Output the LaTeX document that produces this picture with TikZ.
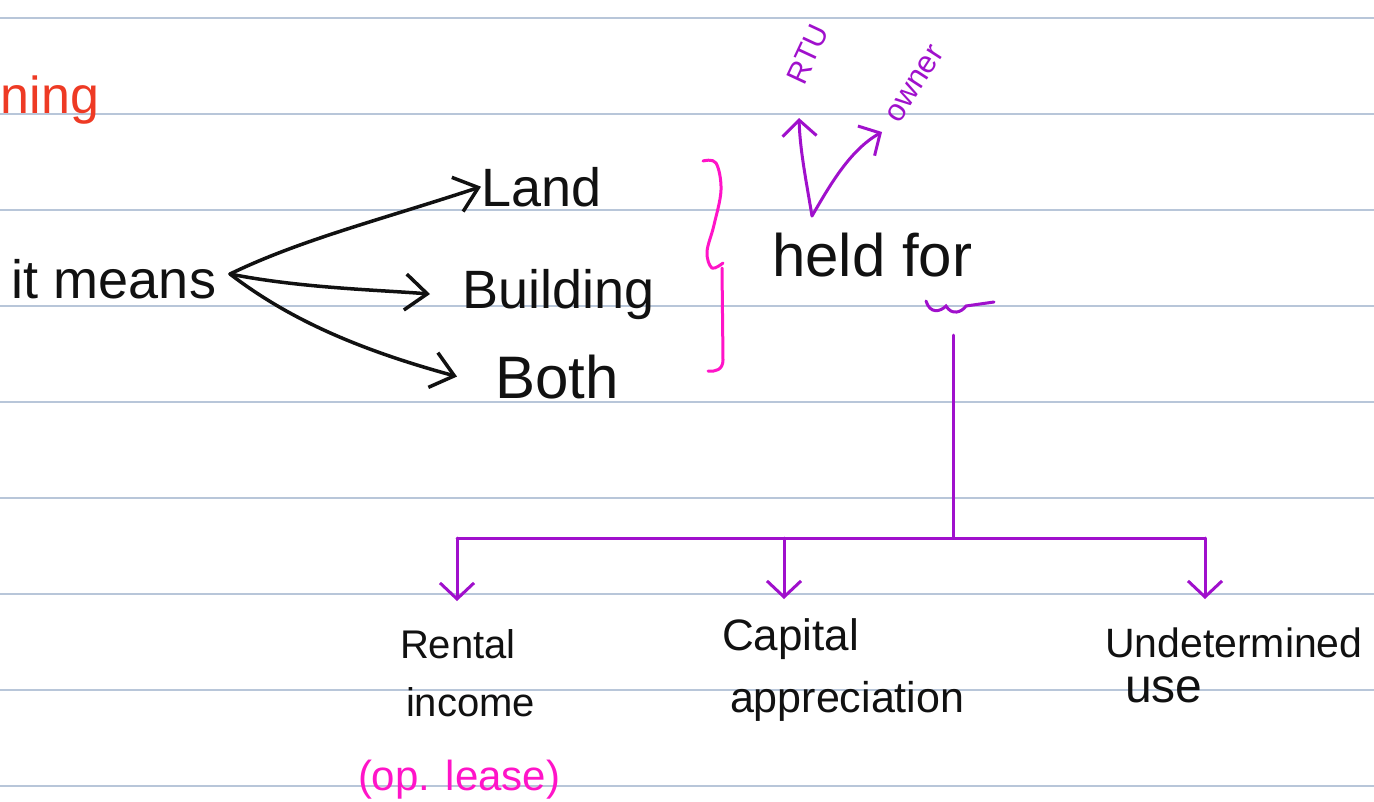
\documentclass[tikz,border=0pt]{standalone}
\usepackage{fontspec}
\setmainfont{Liberation Sans}
\usetikzlibrary{arrows.meta}
\definecolor{rule}{HTML}{B8C6D9}
\definecolor{ink}{HTML}{111111}
\definecolor{purp}{HTML}{A010CC}
\definecolor{pinkk}{HTML}{FF14C8}
\definecolor{redd}{HTML}{EE3A24}
\tikzset{
  hand/.style={inner sep=0pt, outer sep=0pt, text=ink},
  barb/.style={-{Straight Barb[length=22pt,width=36pt,line width=3.5pt]}},
  karrow/.style={draw=ink, line width=3.5pt, line cap=round, barb},
  parrow/.style={draw=purp, line width=3pt, line cap=round, -{Straight Barb[length=16pt,width=34pt,line width=3pt]}},
  pline/.style={draw=purp, line width=3pt, line cap=round},
}
\begin{document}
\begin{tikzpicture}[x=1pt,y=-1pt]
\useasboundingbox (0,0) rectangle (1374,801);
\fill[white] (0,0) rectangle (1374,801);
\foreach \k in {0,...,8} {
  \draw[rule, line width=1.8pt] (0,18+96*\k) -- (1374,18+96*\k);
}
% red partial word
\node[hand, text=redd, anchor=base west, font=\fontsize{52}{58}\selectfont] (mean) at (1,113) {ning};
% left part
\node[hand, anchor=base west, font=\fontsize{54}{60}\selectfont] (it) at (12,298) {it means};
\node[hand, anchor=base west, font=\fontsize{54}{60}\selectfont] (land) at (481,206) {Land};
\node[hand, anchor=base west, font=\fontsize{54}{60}\selectfont] (bldg) at (462,308) {Building};
\node[hand, anchor=base west, font=\fontsize{60}{64}\selectfont] (both) at (495,398) {Both};
\coordinate (src) at (230,274);
\draw[karrow] (src) .. controls (300,240) and (380,220) .. (land.west);
\draw[karrow] (src) .. controls (300,288) and (380,290) .. ([xshift=-32pt]bldg.west);
\draw[karrow] (src) .. controls (290,320) and (360,350) .. ([xshift=-38pt]both.west);
% brace
\draw[pinkk, line width=3pt, line cap=round, line join=round]
  plot[smooth, tension=0.6] coordinates {(703,161) (716,163) (721,190) (714,225) (707,252) (712,268) (723,263)}
  (722,268) -- (723,360) .. controls (723,370) and (715,372) .. (708,371);
% held for
\node[hand, anchor=base west, font=\fontsize{60}{66}\selectfont] (held) at (772,276) {held for};
\draw[pline] (926,301) .. controls (930,314) and (940,312) .. (946,306) .. controls (952,316) and (962,312) .. (966,306) -- (994,302);
\coordinate (v) at (812,216);
\coordinate (rtutip) at (799,118);
\coordinate (owntip) at (882,132);
\draw[parrow] (v) .. controls (806,180) and (800,150) .. (rtutip);
\draw[parrow] (v) .. controls (830,185) and (850,150) .. (owntip);
\node[hand, text=purp, anchor=base west, rotate=65, font=\fontsize{30}{34}\selectfont] (rtu) at (804,86) {RTU};
\node[hand, text=purp, anchor=base west, rotate=57, font=\fontsize{31}{34}\selectfont] (owner) at (899,124) {owner};
% tree
\coordinate (top) at (953,335);
\coordinate (mid) at (953,538);
\coordinate (b1) at (457,538);
\coordinate (b2) at (784,538);
\coordinate (b3) at (1205,538);
\coordinate (t1) at (457,601);
\coordinate (t2) at (784,599);
\coordinate (t3) at (1205,599);
\draw[pline] (top) -- (mid);
\draw[pline] (b1) -- (b3);
\draw[parrow] (b1) -- (t1);
\draw[parrow] (b2) -- (t2);
\draw[parrow] (b3) -- (t3);
\node[hand, anchor=base west, font=\fontsize{40}{44}\selectfont] (rental) at (400,658) {Rental};
\node[hand, anchor=base west, font=\fontsize{40}{44}\selectfont] (income) at (406,716) {income};
\node[hand, text=pinkk, anchor=base west, font=\fontsize{42}{46}\selectfont] (lease) at (358,790) {(op. lease)};
\node[hand, anchor=base west, font=\fontsize{44}{48}\selectfont] (capital) at (722,650) {Capital};
\node[hand, anchor=base west, font=\fontsize{43}{46}\selectfont] (apprec) at (730,712) {appreciation};
\node[hand, anchor=base west, font=\fontsize{41}{44}\selectfont] (undet) at (1105,657) {Undetermined};
\node[hand, anchor=base west, font=\fontsize{48}{52}\selectfont] (use) at (1125,702) {use};
\end{tikzpicture}
\end{document}
